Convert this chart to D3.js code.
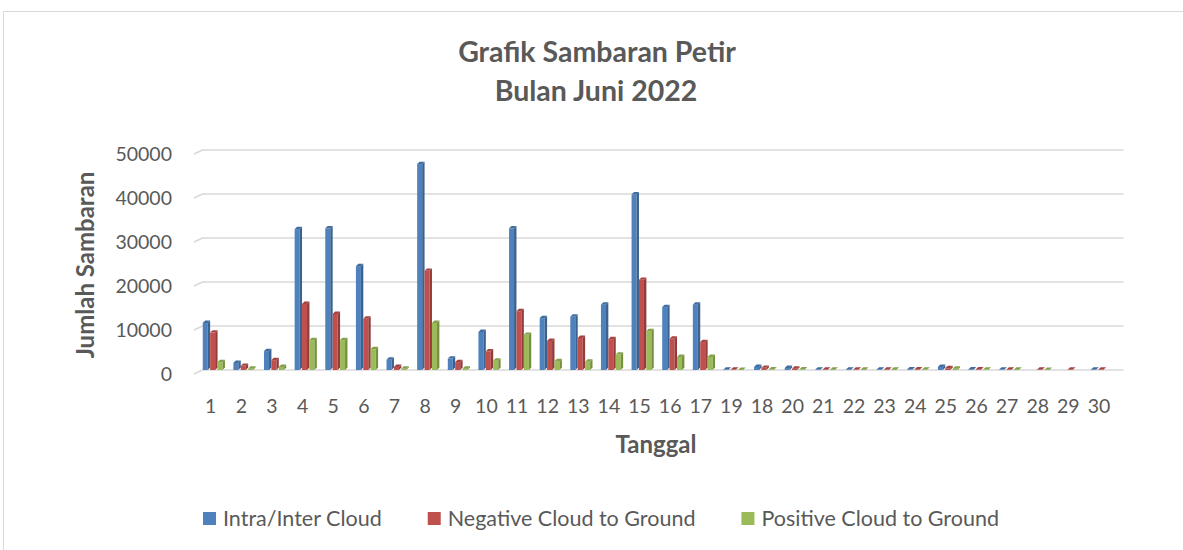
<!DOCTYPE html>
<html>
<head>
<meta charset="utf-8">
<script src="https://cdn.jsdelivr.net/npm/d3@7"></script>
<style>
  body { margin: 0; background: #fff; }
  text { font-family: Lato, "Open Sans", sans-serif; fill: #595959; }
</style>
</head>
<body>
<svg width="1183" height="550"></svg>
<script>
var tanggal = ["1","2","3","4","5","6","7","8","9","10","11","12","13","14","15","16","17",
  "19","18","20","21","22","23","24","25","26","27","28","29","30"];
var series = ["Intra/Inter Cloud", "Negative Cloud to Ground", "Positive Cloud to Ground"];
var intraCloud = [10700, 1600, 4300, 32000, 32200, 23600, 2350, 46800, 2600, 8650, 32200, 11800, 12100, 14850, 39900, 14300, 14850,
  100, 700, 450, 100, 100, 100, 150, 700, 150, 100, 0, 0, 100];
var negativeCG = [8500, 950, 2250, 15000, 12750, 11650, 700, 22550, 1800, 4250, 13350, 6600, 7300, 7000, 20500, 7100, 6350,
  100, 500, 300, 100, 100, 100, 150, 400, 150, 100, 100, 100, 100];
var positiveCG = [1800, 300, 700, 6800, 6800, 4750, 300, 10700, 300, 2100, 8000, 2000, 1900, 3500, 8850, 2950, 2950,
  50, 150, 150, 80, 80, 80, 100, 300, 100, 80, 50, 0, 0];
var yTicks = [0, 10000, 20000, 30000, 40000, 50000];

var colors = ["#4f81bd", "#c0504d", "#9bbb59"];
var sideColors = ["#3a6290", "#923b39", "#75903f"];
var topColors = ["#416d9f", "#a44341", "#83a04a"];

var svg = d3.select("svg");

// chart frame
svg.append("rect")
  .attr("x", 3.5).attr("y", 11.5)
  .attr("width", 1300).attr("height", 700)
  .attr("fill", "none").attr("stroke", "#d9d9d9");

// title
svg.append("text").attr("x", 597).attr("y", 62)
  .attr("text-anchor", "middle").attr("font-size", 28.5).attr("font-weight", "bold")
  .text("Grafik Sambaran Petir");
svg.append("text").attr("x", 596).attr("y", 101)
  .attr("text-anchor", "middle").attr("font-size", 28.5).attr("font-weight", "bold")
  .text("Bulan Juni 2022");

var left = 194, right = 1115, wallDx = 8.4, wallDy = 4;
var y = d3.scaleLinear().domain([0, 50000]).range([370, 150]);
var x0 = d3.scaleBand().domain(tanggal).range([195.4, 1114.3]);

// gridlines on side/back wall
svg.append("g").selectAll("path")
  .data(yTicks)
  .enter().append("path")
  .attr("d", function (d) {
    return "M" + left + "," + (y(d) + wallDy) + "L" + (left + wallDx) + "," + y(d) + "L" + (right + wallDx) + "," + y(d);
  })
  .attr("fill", "none")
  .attr("stroke", "#d9d9d9")
  .attr("stroke-width", 1.6);

// y axis labels
var yAxis = svg.append("g")
  .attr("transform", "translate(172," + wallDy + ")")
  .call(d3.axisLeft(y).tickValues(yTicks).tickSize(0).tickPadding(0).tickFormat(d3.format("d")));
yAxis.select(".domain").remove();
yAxis.selectAll("text").attr("font-size", 19.5).style("fill", "#595959");
yAxis.attr("font-family", null);

// x axis labels
var xAxis = svg.append("g")
  .attr("transform", "translate(0,391)")
  .call(d3.axisBottom(x0).tickSize(0).tickPadding(8));
xAxis.select(".domain").remove();
xAxis.selectAll("text").attr("font-size", 19.5).style("fill", "#595959");
xAxis.attr("font-family", null);

// bars
var values = [intraCloud, negativeCG, positiveCG];
var step = 7.4, w = 5, dep = 2.4;
var base = y(0);
var bars = [];
tanggal.forEach(function (c, i) {
  values.forEach(function (arr, j) {
    if (arr[i] > 0) bars.push({ c: c, s: j, v: arr[i] });
  });
});

var bg = svg.append("g").selectAll("g")
  .data(bars)
  .enter().append("g")
  .attr("transform", function (d) {
    return "translate(" + (x0(d.c) + x0.bandwidth() * 0.24 + d.s * step) + ",0)";
  });

bg.append("rect")
  .attr("x", 0)
  .attr("y", function (d) { return y(d.v); })
  .attr("width", w)
  .attr("height", function (d) { return base - y(d.v); })
  .attr("fill", function (d) { return colors[d.s]; });

bg.append("path")
  .attr("d", function (d) {
    var t = y(d.v);
    return "M" + w + "," + t + "L" + (w + dep) + "," + (t - dep) + "L" + (w + dep) + "," + (base - dep) + "L" + w + "," + base + "Z";
  })
  .attr("fill", function (d) { return sideColors[d.s]; });

bg.append("path")
  .attr("d", function (d) {
    var t = y(d.v);
    return "M0," + t + "L" + dep + "," + (t - dep) + "L" + (w + dep) + "," + (t - dep) + "L" + w + "," + t + "Z";
  })
  .attr("fill", function (d) { return topColors[d.s]; });

// axis titles
svg.append("text")
  .attr("transform", "translate(94,265) rotate(-90)")
  .attr("text-anchor", "middle").attr("font-size", 24).attr("font-weight", "bold")
  .text("Jumlah Sambaran");
svg.append("text").attr("x", 656).attr("y", 453)
  .attr("text-anchor", "middle").attr("font-size", 24).attr("font-weight", "bold")
  .text("Tanggal");

// legend
var legend = svg.append("g");
var lx = 0;
series.forEach(function (s, j) {
  var item = legend.append("g").attr("transform", "translate(" + lx + ",0)");
  item.append("rect").attr("x", 0).attr("y", 512).attr("width", 13).attr("height", 13)
    .attr("fill", colors[j]);
  var t = item.append("text").attr("x", 20).attr("y", 526)
    .attr("font-size", 21.5).text(s);
  lx += 20 + t.node().getComputedTextLength() + 46;
});
legend.attr("transform", "translate(" + (601 - (lx - 46) / 2) + ",0)");
</script>
</body>
</html>
